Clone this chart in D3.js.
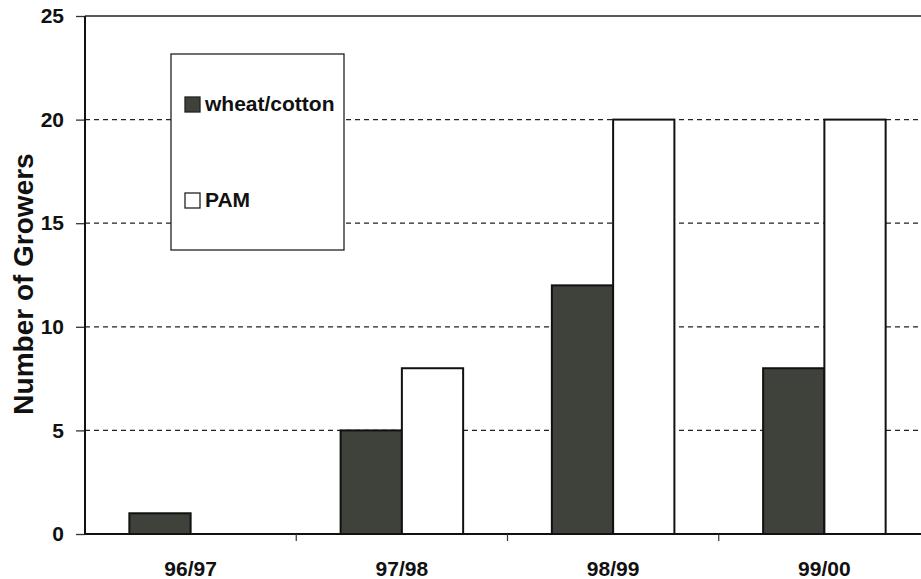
<!DOCTYPE html>
<html>
<head>
<meta charset="utf-8">
<script src="https://cdn.jsdelivr.net/npm/d3@7"></script>
<style>
  body { margin: 0; background: #fff; }
  svg { display: block; font-family: "Liberation Sans", Arial, sans-serif; }
  .grid line { stroke: #222; stroke-width: 1.3; stroke-dasharray: 5,4; }
  .yAxis text, .xLabels text { font-weight: bold; fill: #111; }
</style>
</head>
<body>
<div class="container"></div>
<script>
const WIDTH = 921
	, HEIGHT = 579
	, LEFT = 85
	, RIGHT = 930
	, TOP = 16
	, BOTTOM = 534;

// data
var seasons = ["96/97", "97/98", "98/99", "99/00"];
var seriesNames = ["wheat/cotton", "PAM"];
var wheatCotton = [1, 5, 12, 8];
var pam = [0, 8, 20, 20];
var yTicks = [0, 5, 10, 15, 20, 25];

var colors = { "wheat/cotton": "#3e423b", "PAM": "#ffffff" };

var rows = seasons.map(function (s, i) {
	return { season: s, values: [
		{ name: seriesNames[0], value: wheatCotton[i] },
		{ name: seriesNames[1], value: pam[i] }
	] };
});

var svg = d3.select('.container').append('svg')
	.attr('width', WIDTH)
	.attr('height', HEIGHT);

var x0 = d3.scaleBand()
	.domain(seasons)
	.range([LEFT, RIGHT])
	.paddingInner(0.42)
	.paddingOuter(0.21);

var x1 = d3.scaleBand()
	.domain(seriesNames)
	.range([0, x0.bandwidth()]);

var y = d3.scaleLinear()
	.domain([0, 25])
	.range([BOTTOM, TOP]);

// gridlines
svg.append('g').classed('grid', true)
	.selectAll('line').data(yTicks.filter(function (t) { return t > 0 && t < 25; }))
	.enter().append('line')
	.attr('x1', LEFT).attr('x2', WIDTH)
	.attr('y1', function (d) { return y(d); })
	.attr('y2', function (d) { return y(d); });

// top border at 25
svg.append('line')
	.attr('x1', LEFT).attr('x2', WIDTH)
	.attr('y1', y(25)).attr('y2', y(25))
	.attr('stroke', '#222').attr('stroke-width', 1.4);

// bars
var groups = svg.append('g').selectAll('g').data(rows)
	.enter().append('g')
	.attr('transform', function (d) { return 'translate(' + x0(d.season) + ',0)'; });

groups.selectAll('rect').data(function (d) { return d.values.filter(function (v) { return v.value > 0; }); })
	.enter().append('rect')
	.attr('x', function (d) { return x1(d.name); })
	.attr('y', function (d) { return y(d.value); })
	.attr('width', x1.bandwidth())
	.attr('height', function (d) { return y(0) - y(d.value); })
	.attr('fill', function (d) { return colors[d.name]; })
	.attr('stroke', '#111')
	.attr('stroke-width', 2);

// y axis
var yAxis = d3.axisLeft(y).tickValues(yTicks).tickSize(9).tickPadding(12);
var yg = svg.append('g')
	.classed('yAxis', true)
	.attr('transform', 'translate(' + LEFT + ',0)')
	.call(yAxis);
yg.select('.domain').remove();
yg.selectAll('.tick line').attr('stroke', '#333').attr('stroke-width', 1.3);
yg.selectAll('text').style('font-size', '21px');
svg.append('line')
	.attr('x1', LEFT).attr('x2', LEFT)
	.attr('y1', TOP).attr('y2', BOTTOM)
	.attr('stroke', '#111').attr('stroke-width', 2);

// x baseline and boundary ticks
svg.append('line')
	.attr('x1', LEFT).attr('x2', WIDTH)
	.attr('y1', BOTTOM).attr('y2', BOTTOM)
	.attr('stroke', '#111').attr('stroke-width', 2);
svg.append('g').selectAll('line').data(seasons.slice(1))
	.enter().append('line')
	.attr('x1', function (d) { return x0(d) - x0.step() * 0.21; })
	.attr('x2', function (d) { return x0(d) - x0.step() * 0.21; })
	.attr('y1', BOTTOM).attr('y2', BOTTOM + 7)
	.attr('stroke', '#333').attr('stroke-width', 1.2);

// x labels
svg.append('g').classed('xLabels', true)
	.selectAll('text').data(seasons)
	.enter().append('text')
	.attr('x', function (d) { return x0(d) + x0.bandwidth() / 2; })
	.attr('y', 576)
	.attr('text-anchor', 'middle')
	.style('font-size', '21px')
	.text(function (d) { return d; });

// y title
svg.append('text')
	.attr('transform', 'translate(33,284) rotate(-90)')
	.attr('text-anchor', 'middle')
	.style('font-size', '28px')
	.style('font-weight', 'bold')
	.attr('fill', '#111')
	.text('Number of Growers');

// legend
var legend = svg.append('g').attr('transform', 'translate(171,54)');
legend.append('rect')
	.attr('width', 173).attr('height', 196)
	.attr('fill', '#fff')
	.attr('stroke', '#222').attr('stroke-width', 1.3);
var items = legend.selectAll('g.item').data(seriesNames)
	.enter().append('g')
	.attr('transform', function (d, i) { return 'translate(14,' + (43 + i * 96) + ')'; });
items.append('rect')
	.attr('width', 15).attr('height', 15)
	.attr('fill', function (d) { return colors[d]; })
	.attr('stroke', '#222').attr('stroke-width', 1.3);
items.append('text')
	.attr('x', 20).attr('y', 14)
	.style('font-size', '21px')
	.style('font-weight', 'bold')
	.attr('fill', '#111')
	.text(function (d) { return d; });
</script>
</body>
</html>
